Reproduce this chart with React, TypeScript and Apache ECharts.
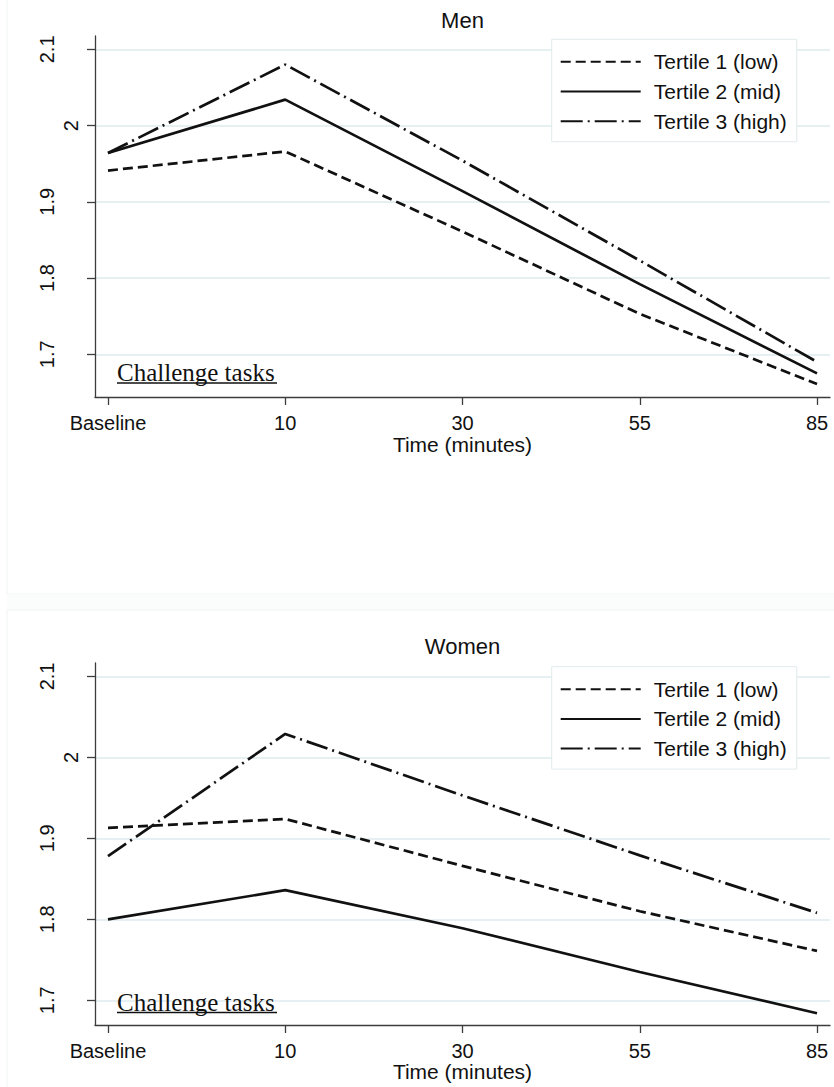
import React, { useEffect, useRef } from 'react';
import * as echarts from 'echarts';

const timeLabels = ['Baseline', '10', '30', '55', '85'];
const seriesNames = ['Tertile 1 (low)', 'Tertile 2 (mid)', 'Tertile 3 (high)'];

const menT1 = [1.941, 1.966, 1.861, 1.753, 1.661];
const menT2 = [1.964, 2.034, 1.914, 1.792, 1.675];
const menT3 = [1.964, 2.080, 1.954, 1.823, 1.690];

const womenT1 = [1.913, 1.924, 1.866, 1.810, 1.761];
const womenT2 = [1.800, 1.836, 1.789, 1.735, 1.684];
const womenT3 = [1.878, 2.029, 1.953, 1.879, 1.808];

const yTicks = [1.7, 1.8, 1.9, 2, 2.1];
const xTicks = [0, 1, 2, 3, 4];

const SANS = "'Liberation Sans', Arial, sans-serif";
const SERIF = "'Liberation Serif', 'Times New Roman', serif";
const INK = '#111111';
const AXIS = '#3c3c3c';
const GRIDLINE = '#e6eff1';

const dashTypes: any[] = [[10, 5], 'solid', [22, 5, 2, 5]];

const toPoints = (vals: number[]) => vals.map((v, i) => [i, v]);

function makeX(gridIndex: number, margin: number) {
  return {
    type: 'value',
    gridIndex,
    min: -0.0733,
    max: 4.0733,
    axisLine: { show: true, onZero: false, lineStyle: { color: AXIS, width: 1.3 } },
    axisTick: { show: true, length: 8, customValues: xTicks, lineStyle: { color: AXIS, width: 1.3 } },
    axisLabel: {
      customValues: xTicks,
      formatter: (v: number) => timeLabels[Math.round(v)],
      fontSize: 20,
      color: INK,
      fontFamily: SANS,
      margin,
    },
    splitLine: { show: false },
    name: 'Time (minutes)',
    nameLocation: 'middle',
    nameGap: 36,
    nameTextStyle: { fontSize: 21, color: INK, fontFamily: SANS },
  };
}

function makeY(gridIndex: number, min: number, max: number) {
  return {
    type: 'value',
    gridIndex,
    min,
    max,
    axisLine: { show: true, onZero: false, lineStyle: { color: AXIS, width: 1.3 } },
    axisTick: { show: true, length: 8, customValues: yTicks, lineStyle: { color: AXIS, width: 1.3 } },
    axisLabel: {
      customValues: yTicks,
      rotate: 90,
      margin: 14.5,
      formatter: (v: number) => (Math.abs(v - 2) < 1e-9 ? '{s|2}' : '{n|' + String(Number(v.toFixed(2))) + '}'),
      rich: {
        s: { fontSize: 20, lineHeight: 20, color: INK, fontFamily: SANS },
        n: { fontSize: 20, lineHeight: 68, color: INK, fontFamily: SANS },
      },
    },
    splitLine: { show: true, lineStyle: { color: GRIDLINE, width: 2 } },
  };
}

function makeSeries(idx: number, vals: number[][]) {
  return vals.map((v, k) => ({
    type: 'line',
    name: seriesNames[k],
    xAxisIndex: idx,
    yAxisIndex: idx,
    data: toPoints(v as any),
    symbol: 'none',
    showSymbol: false,
    lineStyle: { color: INK, width: 2.7, type: dashTypes[k] },
    itemStyle: { color: INK },
    emphasis: { disabled: true },
  }));
}

function makeLegend(top: number) {
  return {
    orient: 'vertical',
    left: 551.7,
    top,
    data: seriesNames,
    selectedMode: false,
    itemWidth: 80,
    itemHeight: 20,
    itemGap: 8.7,
    padding: [12, 10, 10, 8],
    borderColor: '#e1eaec',
    borderWidth: 1,
    backgroundColor: '#ffffff',
    itemStyle: { opacity: 0 },
    textStyle: { fontSize: 21, color: INK, fontFamily: SANS, padding: [0, 0, 0, 8] },
  };
}

export default function App() {
  const ref = useRef<HTMLDivElement>(null);

  useEffect(() => {
    document.body.style.margin = '0';
    if (!ref.current) return;
    const chart = echarts.init(ref.current, undefined, { renderer: 'svg' });
    const option: any = {
      animation: false,
      backgroundColor: '#ffffff',
      title: [
        {
          text: 'Men',
          left: 462.5,
          top: 9.3,
          textAlign: 'center',
          padding: 0,
          textStyle: { fontSize: 22, fontWeight: 'normal', color: INK, fontFamily: SANS },
        },
        {
          text: 'Women',
          left: 462.5,
          top: 635.7,
          textAlign: 'center',
          padding: 0,
          textStyle: { fontSize: 22, fontWeight: 'normal', color: INK, fontFamily: SANS },
        },
      ],
      legend: [makeLegend(39.3), makeLegend(666.7)],
      grid: [
        { left: 95, top: 36, width: 735, height: 361, containLabel: false },
        { left: 95, top: 663, width: 735, height: 362, containLabel: false },
      ],
      xAxis: [makeX(0, 16), makeX(1, 15.5)],
      yAxis: [makeY(0, 1.644, 2.1175), makeY(1, 1.6695, 2.1166)],
      series: [...makeSeries(0, [menT1, menT2, menT3]), ...makeSeries(1, [womenT1, womenT2, womenT3])],
      graphic: [
        {
          type: 'rect',
          silent: true,
          z: -10,
          shape: { x: 7, y: -2, width: 830, height: 596 },
          style: { fill: 'none', stroke: '#f1f4f4', lineWidth: 1 },
        },
        {
          type: 'rect',
          silent: true,
          z: -10,
          shape: { x: 7, y: 594, width: 830, height: 16 },
          style: { fill: '#fbfcfc' },
        },
        {
          type: 'rect',
          silent: true,
          z: -10,
          shape: { x: 7, y: 610, width: 830, height: 480 },
          style: { fill: 'none', stroke: '#f1f4f4', lineWidth: 1 },
        },
        {
          type: 'text',
          z: 100,
          x: 117,
          y: 372,
          style: { text: 'Challenge tasks', fontSize: 25, fontFamily: SERIF, fill: INK, align: 'left', verticalAlign: 'middle' },
        },
        {
          type: 'line',
          z: 100,
          shape: { x1: 117, y1: 383, x2: 277, y2: 383 },
          style: { stroke: INK, lineWidth: 1.5 },
        },
        {
          type: 'text',
          z: 100,
          x: 117,
          y: 1002.5,
          style: { text: 'Challenge tasks', fontSize: 25, fontFamily: SERIF, fill: INK, align: 'left', verticalAlign: 'middle' },
        },
        {
          type: 'line',
          z: 100,
          shape: { x1: 117, y1: 1012.5, x2: 277, y2: 1012.5 },
          style: { stroke: INK, lineWidth: 1.5 },
        },
      ],
    };
    chart.setOption(option);
    return () => chart.dispose();
  }, []);

  return <div ref={ref} style={{ width: 834, height: 1087 }} />;
}
